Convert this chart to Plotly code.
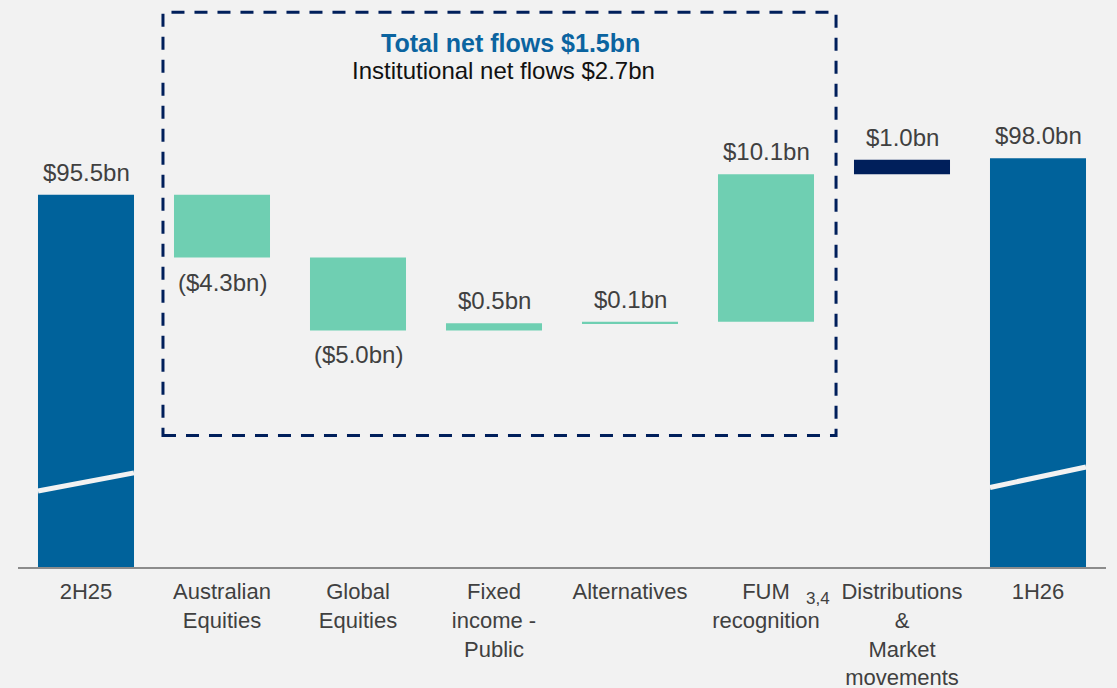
import plotly.graph_objects as go

categories = ["2H25", "Australian<br>Equities", "Global<br>Equities", "Fixed<br>income -<br>Public",
              "Alternatives", "FUM<br>recognition", "Distributions<br>&<br>Market<br>movements", "1H26"]
values = [95.5, -4.3, -5.0, 0.5, 0.1, 10.1, 1.0, 98.0]
measures = ["total", "relative", "relative", "relative", "relative", "relative", "relative", "total"]
labels = ["$95.5bn", "($4.3bn)", "($5.0bn)", "$0.5bn", "$0.1bn", "$10.1bn", "$1.0bn", "$98.0bn"]
kinds = ["total", "flow", "flow", "flow", "flow", "flow", "market", "total"]
box_title = "Total net flows $1.5bn"
box_subtitle = "Institutional net flows $2.7bn"
superscript = "3,4"

colors = {"total": "#00629B", "flow": "#6FCFB2", "market": "#001F5B"}
TEXT = "#404040"
BG = "#F2F2F2"
FONT = "Liberation Sans, Arial, sans-serif"

# compute bases from data
bases, heights = [], []
run = 0.0
for v, m in zip(values, measures):
    if m == "total":
        bases.append(0.0)
        heights.append(v)
        run = v
    else:
        bases.append(run)
        heights.append(v)
        run = run + v

x = list(range(len(categories)))
BW = 0.706

fig = go.Figure()
fig.add_trace(go.Bar(
    x=x, y=heights, base=bases, width=BW,
    marker=dict(color=[colors[k] for k in kinds], line=dict(width=0)),
    hoverinfo="skip", showlegend=False,
))

annotations = []
for i, (b, h, lab) in enumerate(zip(bases, heights, labels)):
    if h >= 0:
        annotations.append(dict(x=i, y=b + h, xref="x", yref="y", text=lab, showarrow=False,
                                yanchor="bottom", yshift=7,
                                font=dict(size=24, color=TEXT, family=FONT)))
    else:
        annotations.append(dict(x=i, y=b + h, xref="x", yref="y", text=lab, showarrow=False,
                                yanchor="top", yshift=-9,
                                font=dict(size=24, color=TEXT, family=FONT)))

# box titles
annotations.append(dict(x=3.12, y=105.9, xref="x", yref="y", text="<b>" + box_title + "</b>",
                        showarrow=False, font=dict(size=25, color="#0B64A0", family=FONT)))
annotations.append(dict(x=3.07, y=104.0, xref="x", yref="y", text=box_subtitle,
                        showarrow=False, font=dict(size=24, color="#111111", family=FONT)))
# superscript next to FUM recognition (below the plot area, so paper y)
annotations.append(dict(x=5.385, y=-0.076, xref="x", yref="paper", text=superscript, showarrow=False,
                        borderpad=0, font=dict(size=17, color=TEXT, family=FONT)))

shapes = [
    # dashed box around net flows
    dict(type="rect", xref="x", yref="y", x0=0.566, x1=5.515, y0=79.0, y1=108.0,
         line=dict(color="#001F5B", width=3, dash="13px,10px"), fillcolor="rgba(0,0,0,0)"),
    # axis-break markers
    dict(type="line", xref="x", yref="y", x0=0 - BW / 2, x1=0 + BW / 2, y0=75.2, y1=76.45,
         line=dict(color=BG, width=5)),
    dict(type="line", xref="x", yref="y", x0=7 - BW / 2, x1=7 + BW / 2, y0=75.45, y1=76.85,
         line=dict(color=BG, width=5)),
]

fig.update_layout(
    width=1117, height=688,
    margin=dict(l=10, r=19, t=0, b=129),
    paper_bgcolor=BG, plot_bgcolor=BG,
    annotations=annotations,
    shapes=shapes,
    font=dict(family=FONT, size=22, color=TEXT),
    xaxis=dict(tickmode="array", tickvals=x, ticktext=categories, range=[-0.5, 7.5],
               showgrid=False, zeroline=False, showline=True, linecolor="#8C8C8C", linewidth=2,
               ticks="", ticklabelstandoff=4,
               tickfont=dict(size=22, color=TEXT, family=FONT), fixedrange=True),
    yaxis=dict(range=[70, 108.29], visible=False, showgrid=False, zeroline=False, fixedrange=True),
)

fig.write_html("out.html", config={"displayModeBar": False},
               post_script="document.body.style.background='#F2F2F2';")
